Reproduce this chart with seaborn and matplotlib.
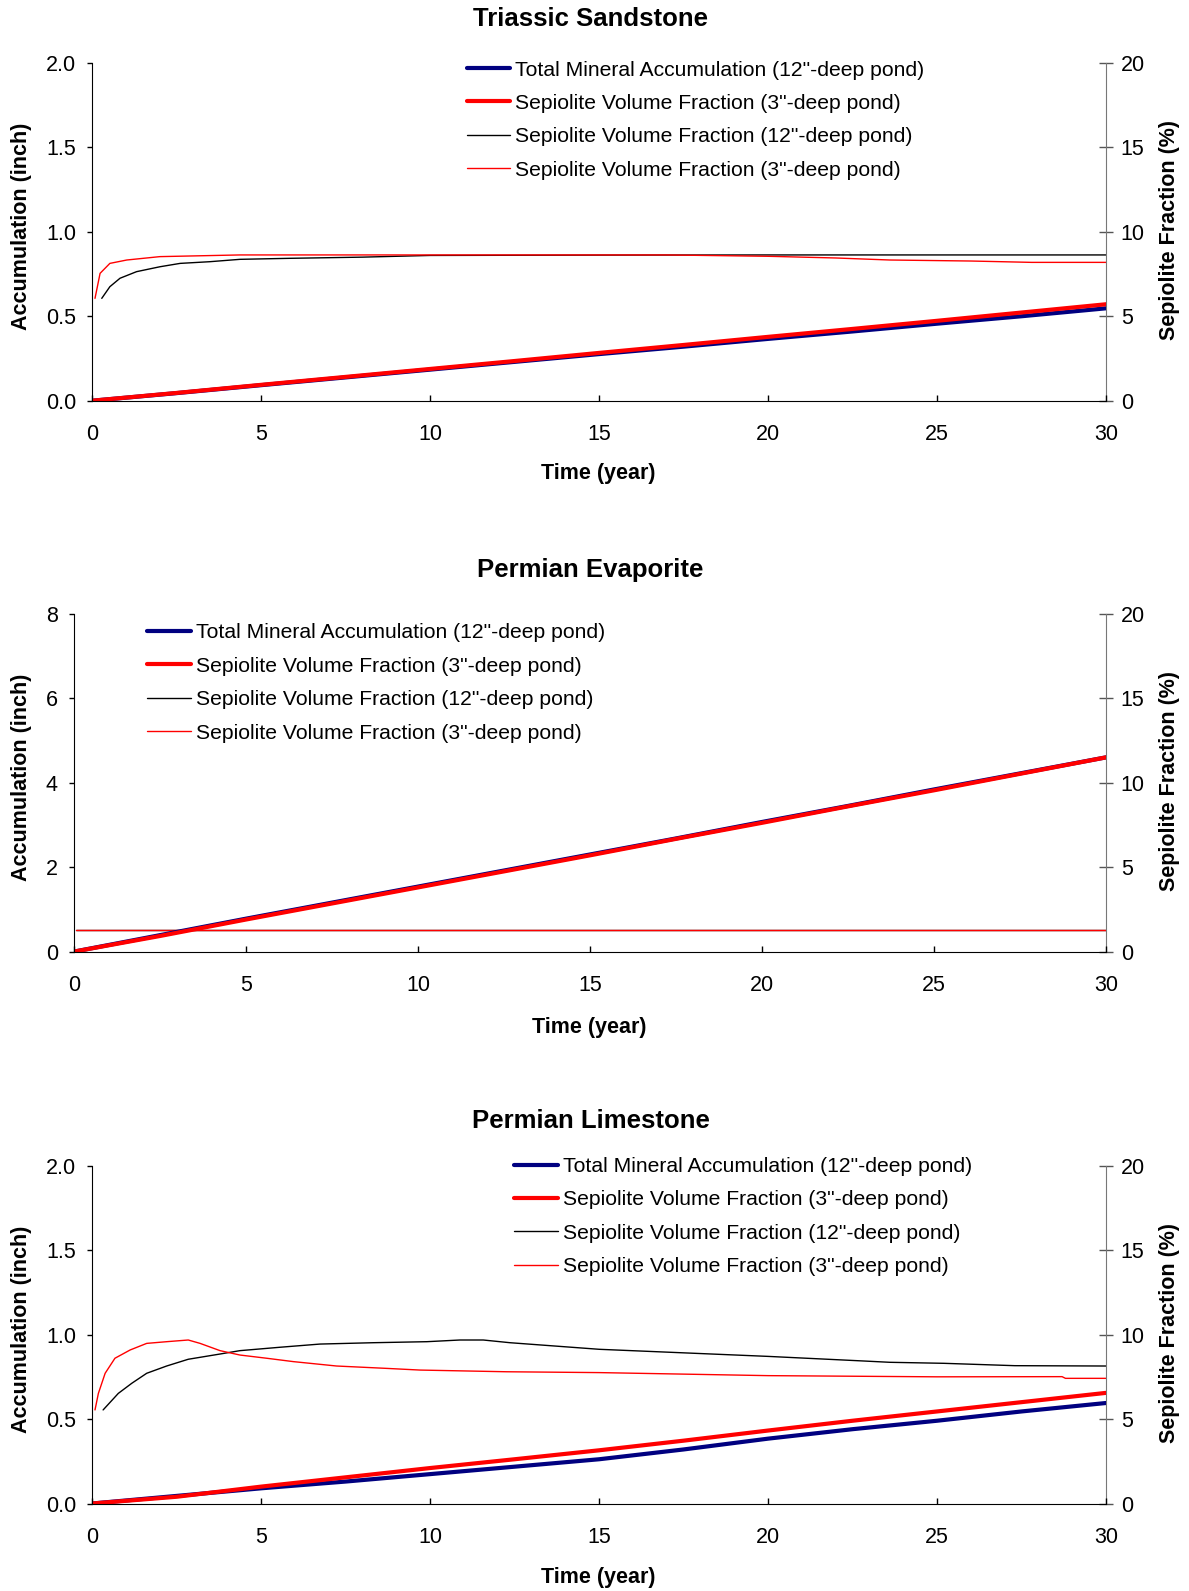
import matplotlib
matplotlib.use("Agg")
import matplotlib.pyplot as plt
import seaborn as sns

# ---- data ----
titles = ["Triassic Sandstone", "Permian Evaporite", "Permian Limestone"]
legend_labels = ['Total Mineral Accumulation (12"-deep pond)',
                 'Sepiolite Volume Fraction (3"-deep pond)',
                 'Sepiolite Volume Fraction (12"-deep pond)',
                 'Sepiolite Volume Fraction (3"-deep pond)']
acc_years = [0, 2.5, 5, 7.5, 10, 12.5, 15, 17.5, 20, 22.5, 25, 27.5, 30]

# Triassic Sandstone
ts_acc12 = [0, 0.045, 0.092, 0.138, 0.184, 0.23, 0.276, 0.32, 0.366, 0.41, 0.456, 0.50, 0.547]
ts_acc3 = [0, 0.046, 0.094, 0.141, 0.188, 0.235, 0.283, 0.33, 0.378, 0.425, 0.473, 0.522, 0.571]
ts_sep12_years = [0.28, 0.52, 0.82, 1.31, 2.0, 2.6, 3.48, 4.37, 5.85, 8, 10, 15, 20, 25, 30]
ts_sep12 = [6.06, 6.75, 7.25, 7.64, 7.93, 8.13, 8.23, 8.37, 8.43, 8.5, 8.6, 8.62, 8.63, 8.63, 8.63]
ts_sep3_years = [0.08, 0.23, 0.52, 1.02, 2.0, 4.37, 10, 17, 20, 22, 23.6, 26, 27.8, 30]
ts_sep3 = [6.06, 7.54, 8.13, 8.33, 8.53, 8.63, 8.63, 8.63, 8.55, 8.45, 8.33, 8.27, 8.19, 8.19]

# Permian Evaporite
pe_acc12 = [0, 0.39, 0.78, 1.16, 1.54, 1.92, 2.3, 2.68, 3.07, 3.45, 3.84, 4.22, 4.6]
pe_acc3 = [0, 0.37, 0.76, 1.14, 1.52, 1.9, 2.28, 2.67, 3.05, 3.44, 3.82, 4.21, 4.6]
pe_sep_years = [0.05, 5, 10, 15, 20, 25, 30]
pe_sep12 = [1.26, 1.26, 1.26, 1.26, 1.26, 1.26, 1.26]
pe_sep3 = [1.26, 1.26, 1.26, 1.26, 1.26, 1.26, 1.26]

# Permian Limestone
pl_acc12 = [0, 0.045, 0.09, 0.13, 0.174, 0.218, 0.262, 0.32, 0.384, 0.44, 0.49, 0.545, 0.595]
pl_acc3 = [0, 0.04, 0.10, 0.155, 0.21, 0.262, 0.315, 0.372, 0.432, 0.49, 0.545, 0.60, 0.655]
pl_sep12_years = [0.32, 0.77, 1.17, 1.61, 2.2, 2.84, 3.78, 4.37, 5.55, 6.74, 8.32, 9.9, 10.88,
                  11.57, 12.36, 15, 20, 22.8, 23.6, 25.2, 27.3, 30]
pl_sep12 = [5.54, 6.52, 7.12, 7.71, 8.14, 8.54, 8.85, 9.05, 9.25, 9.44, 9.52, 9.58, 9.68,
            9.68, 9.52, 9.13, 8.71, 8.44, 8.36, 8.30, 8.16, 8.14]
pl_sep3_years = [0.08, 0.18, 0.38, 0.67, 1.12, 1.61, 2.2, 2.84, 3.19, 3.78, 4.37, 5.16, 5.95,
                 7.23, 8.71, 9.7, 12.26, 15, 20, 25, 28.7, 28.8, 30]
pl_sep3 = [5.54, 6.52, 7.71, 8.6, 9.09, 9.48, 9.58, 9.68, 9.48, 9.05, 8.79, 8.6, 8.4,
           8.14, 8.0, 7.9, 7.8, 7.75, 7.57, 7.5, 7.51, 7.41, 7.41]

panels = [
    (ts_acc12, ts_acc3, ts_sep12_years, ts_sep12, ts_sep3_years, ts_sep3, 2.0, [0, 0.5, 1.0, 1.5, 2.0], "{:.1f}"),
    (pe_acc12, pe_acc3, pe_sep_years, pe_sep12, pe_sep_years, pe_sep3, 8, [0, 2, 4, 6, 8], "{:d}"),
    (pl_acc12, pl_acc3, pl_sep12_years, pl_sep12, pl_sep3_years, pl_sep3, 2.0, [0, 0.5, 1.0, 1.5, 2.0], "{:.1f}"),
]

sns.set_style("white")
plt.rcParams['font.family'] = ['Liberation Sans', 'DejaVu Sans']
plt.rcParams['text.color'] = 'black'
plt.rcParams['xtick.color'] = 'black'
plt.rcParams['ytick.color'] = 'black'

W, H = 1189, 1591
fig = plt.figure(figsize=(W / 100, H / 100), dpi=100)

# axes boxes in pixels: left, right, top, bottom
boxes = [(92.3, 1106, 62.9, 400.7), (74.1, 1106, 613.8, 951.6), (92.3, 1106, 1165.7, 1503.5)]
title_y = [18.5, 570.5, 1121.5]
xlabel_pos = [(598.6, 474.0), (589.4, 1027.0), (598.6, 1577.5)]
legend_pos = [(466.7, 60.5), (147.1, 623.5), (514.4, 1157)]

for i, (acc12, acc3, s12x, s12, s3x, s3, ymax, yticks, fmt) in enumerate(panels):
    l, r, t, b = boxes[i]
    ax = fig.add_axes([l / W, 1 - b / H, (r - l) / W, (b - t) / H])
    ax2 = ax.twinx()

    sns.lineplot(x=s12x, y=s12, ax=ax2, color="black", linewidth=1.0, estimator=None, label=legend_labels[2])
    sns.lineplot(x=s3x, y=s3, ax=ax2, color="#ff0000", linewidth=1.0, estimator=None, label=legend_labels[3])
    sns.lineplot(x=acc_years, y=acc12, ax=ax, color="#000080", linewidth=3.0, estimator=None, label=legend_labels[0])
    sns.lineplot(x=acc_years, y=acc3, ax=ax, color="#ff0000", linewidth=3.0, estimator=None, label=legend_labels[1])

    ax.set_zorder(ax2.get_zorder() + 1)
    ax.patch.set_visible(False)

    ax.set_xlim(0, 30)
    ax.set_ylim(0, ymax)
    ax2.set_ylim(0, 20)
    ax.set_xticks([0, 5, 10, 15, 20, 25, 30])
    ax.set_yticks(yticks)
    ax.set_yticklabels([fmt.format(v) for v in yticks])
    ax2.set_yticks([0, 5, 10, 15, 20])
    ax.set_xlabel("")
    ax.set_ylabel("")
    ax2.set_ylabel("")

    for s in ["top", "right"]:
        ax.spines[s].set_visible(False)
    for s in ["top", "left", "bottom"]:
        ax2.spines[s].set_visible(False)
    ax.spines["left"].set_color("black")
    ax.spines["bottom"].set_color("black")
    ax2.spines["right"].set_visible(True)
    ax2.spines["right"].set_color("#777777")

    ax.tick_params(axis="x", direction="in", length=4.3, width=1, color="black",
                   labelsize=15.5, pad=17, bottom=True)
    ax.tick_params(axis="y", direction="out", length=3.6, width=1, color="black",
                   labelsize=15.5, pad=8, left=True)
    ax2.tick_params(axis="y", direction="inout", length=9.4, width=1, color="#555555",
                    labelsize=15.5, pad=6, right=True)

    h1, lab1 = ax.get_legend_handles_labels()
    h2, lab2 = ax2.get_legend_handles_labels()
    if ax2.get_legend() is not None:
        ax2.get_legend().remove()
    lx, ly = legend_pos[i]
    ax.legend(h1 + h2, lab1 + lab2, loc="upper left", bbox_to_anchor=(lx / W, 1 - ly / H),
              bbox_transform=fig.transFigure, frameon=False, fontsize=15.2,
              handlelength=2.07, handletextpad=0.24, labelspacing=0.68, borderpad=0, borderaxespad=0)

    fig.text(590.5 / W, 1 - title_y[i] / H, titles[i], ha="center", va="center",
             fontsize=18.5, fontweight="bold")
    xx, xy = xlabel_pos[i]
    fig.text(xx / W, 1 - xy / H, "Time (year)", ha="center", va="center",
             fontsize=15.5, fontweight="bold")
    cy = (t + b) / 2
    fig.text(21.5 / W, 1 - (cy - 5) / H, "Accumulation (inch)", ha="center", va="center",
             rotation=90, fontsize=15.5, fontweight="bold")
    fig.text(1169.5 / W, 1 - (cy - 2) / H, "Sepiolite Fraction (%)", ha="center", va="center",
             rotation=90, fontsize=15.5, fontweight="bold")

fig.savefig("out.png", dpi=100)
